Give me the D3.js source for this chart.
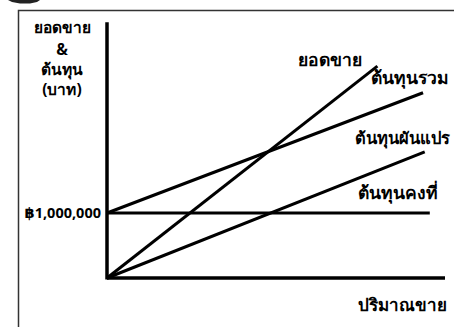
<!DOCTYPE html>
<html><head><meta charset="utf-8">
<script src="https://cdn.jsdelivr.net/npm/d3@7"></script>
<style>
html,body{margin:0;padding:0;background:#fff;}
svg{display:block;}
text{font-family:Tahoma,"Noto Sans","DejaVu Sans",sans-serif;font-weight:bold;fill:#000;}
</style></head>
<body>
<svg id="c" width="454" height="327"></svg>
<script>
// Data (quantity 0-100, baht)
const seriesNames = ["ยอดขาย", "ต้นทุนรวม", "ต้นทุนผันแปร", "ต้นทุนคงที่"];
const salesLine = [[0, 0], [80, 3260000]];
const totalCostLine = [[0, 1000000], [93.5, 2850000]];
const variableCostLine = [[0, 0], [94, 1940000]];
const fixedCostLine = [[0, 1000000], [95.5, 1000000]];
const yTickValues = [1000000];
const yTickLabels = ["฿1,000,000"];
const yTitle = ["ยอดขาย", "&", "ต้นทุน", "(บาท)"];
const xTitle = "ปริมาณขาย";

const svg = d3.select("#c");
const x = d3.scaleLinear().domain([0, 100]).range([107, 445]);
const y = d3.scaleLinear().domain([0, 1000000]).range([278, 213]);
const yMax = 3935000;

// outer frame fragments
svg.append("path").attr("d", "M18.5,327 V10.5 H454").attr("fill", "none").attr("stroke", "#333").attr("stroke-width", 1.5);
svg.append("path").attr("d", "M8,0 L40,0 L37,2 L30,3.5 L20,3.5 L12,2 Z").attr("fill", "#222");

// axes
svg.append("line").attr("x1", x(0)).attr("x2", x(0)).attr("y1", y(0) + 1.5).attr("y2", y(yMax)).attr("stroke", "#000").attr("stroke-width", 3.5);
svg.append("line").attr("x1", x(0)).attr("x2", x(100)).attr("y1", y(0)).attr("y2", y(0)).attr("stroke", "#000").attr("stroke-width", 3.5);

const line = d3.line().x(d => x(d[0])).y(d => y(d[1]));
[fixedCostLine, totalCostLine, salesLine, variableCostLine].forEach(d => {
  svg.append("path").attr("d", line(d)).attr("fill", "none").attr("stroke", "#000").attr("stroke-width", 3);
});

// y tick label
yTickValues.forEach((v, i) => {
  svg.append("text").attr("x", 101).attr("y", y(v)).attr("dy", "0.35em").attr("text-anchor", "end").attr("font-size", 14.5).text(yTickLabels[i]);
});

// y title
yTitle.forEach((t, i) => {
  svg.append("text").attr("x", 62).attr("y", [33, 55, 75, 95][i]).attr("text-anchor", "middle").attr("font-size", 15.5).text(t);
});

// line labels
const labelPos = [[298, 66], [371, 84], [355, 144], [358, 199]];
const labelSize = [17.5, 17.5, 16.5, 17.5];
seriesNames.forEach((n, i) => {
  svg.append("text").attr("x", labelPos[i][0]).attr("y", labelPos[i][1]).attr("font-size", labelSize[i]).text(n);
});

svg.append("text").attr("x", 358).attr("y", 311).attr("font-size", 17).text(xTitle);
</script>
</body></html>
